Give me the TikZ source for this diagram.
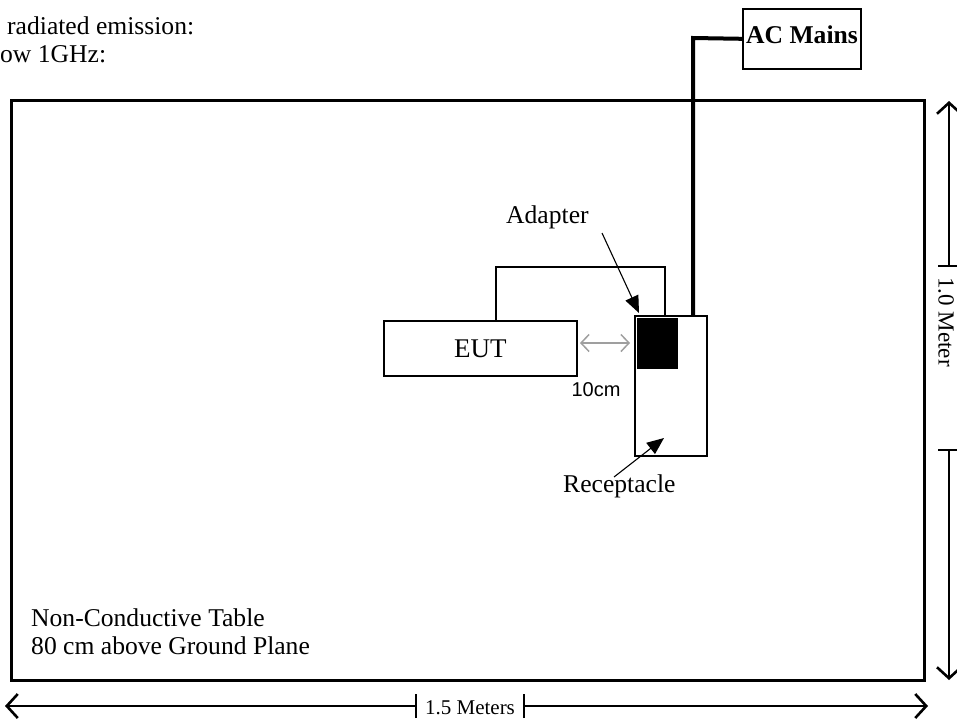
\documentclass[tikz,border=0pt]{standalone}
\usepackage{fontspec}
\setmainfont{Liberation Serif}
\newfontfamily\arialfont{Liberation Sans}
\usetikzlibrary{arrows.meta}
\begin{document}
\begin{tikzpicture}[x=1pt,y=-1pt,
  txt/.style={inner sep=0pt, font=\fontsize{25.6}{28}\selectfont},
  dimtxt/.style={inner sep=0pt, font=\fontsize{21}{24}\selectfont},
  box/.style={draw, line width=1.6pt, inner sep=0pt, anchor=north west},
  dimline/.style={line width=1.1pt},
  dimtip/.style={-{Straight Barb[length=11pt,width=24pt,line width=2.6pt]}},
  callout/.style={line width=1.1pt, -{Triangle[length=17pt,width=14pt]}},
  cable/.style={line width=1.6pt},
  maincable/.style={line width=4pt, line join=miter},
]
\useasboundingbox (0,0) rectangle (957,721);

% header text
\node[txt, anchor=base west] (h1) at (7,34) {radiated emission:};
\node[txt, anchor=base west] (h2) at (0,62) {ow 1GHz:};

% table
\node[draw, line width=2.8pt, minimum width=913pt, minimum height=580pt,
      anchor=north west, inner sep=0pt] (table) at (10,99) {};
\node[txt, anchor=base west, align=left] (tabletext) at (31,654)
  {Non-Conductive Table\\80 cm above Ground Plane};

% AC mains
\node[box, minimum width=118pt, minimum height=60pt] (ac) at (742,8) {};
\node[txt, font=\fontsize{25.6}{28}\selectfont\bfseries, anchor=base west] (actext) at (746,43) {AC Mains};

% receptacle and adapter
\node[box, minimum width=72pt, minimum height=140pt] (rec) at (634,315) {};
\node[fill=black, minimum width=41pt, minimum height=51pt, inner sep=0pt,
      anchor=north west] (adp) at (637,318) {};

% EUT
\node[box, minimum width=193pt, minimum height=55pt] (eut) at (383,320) {};
\node[txt, font=\fontsize{27}{30}\selectfont] (euttext) at (eut.center) {EUT};

% EUT cable
\coordinate (c1) at (496,267);
\coordinate (c2) at (665,267);
\draw[cable] (eut.north -| c1) -- (c1) -- (c2) -- (rec.north -| c2);

% AC cable
\coordinate (c3) at (693,38);
\draw[maincable] (ac.west) -- (c3) -- (rec.north -| c3);

% 10 cm spacing
\coordinate (g1) at (580,343);
\coordinate (g2) at (630,343);
\draw[gray!75, line width=1.5pt,
      {Straight Barb[length=8pt,width=17pt]}-{Straight Barb[length=8pt,width=17pt]}] (g1) -- (g2);
\node[inner sep=0pt, font=\arialfont\fontsize{20}{24}\selectfont] (tencm) at (596,390) {10cm};

% labels
\node[txt, anchor=base west] (adlabel) at (506,223) {Adapter};
\coordinate (a1) at (602,233);
\coordinate (a2) at (639,313);
\draw[callout] (a1) -- (a2);

\node[txt, anchor=base west] (reclabel) at (563,492) {Receptacle};
\coordinate (r1) at (614,477);
\coordinate (r2) at (664,438);
\draw[callout] (r1) -- (r2);

% vertical dimension
\coordinate (vtop) at (949,101);
\coordinate (vbot) at (949,680);
\coordinate (vt1) at (949,266);
\coordinate (vt2) at (949,450);
\node[inner sep=0pt, font=\fontsize{23}{26}\selectfont, rotate=-90] (vlabel) at (946,322) {1.0 Meter};
\draw[dimline, dimtip] (vt1) -- (vtop);
\draw[dimline, dimtip] (vt2) -- (vbot);
\draw[dimline] ([xshift=-11pt]vt1) -- ([xshift=11pt]vt1);
\draw[dimline] ([xshift=-11pt]vt2) -- ([xshift=11pt]vt2);

% horizontal dimension
\coordinate (hl) at (5,706);
\coordinate (hr) at (928,706);
\coordinate (ht1) at (416,706);
\coordinate (ht2) at (524,706);
\node[dimtxt] (hlabel) at (470,708) {1.5 Meters};
\draw[dimline, dimtip] (ht1) -- (hl);
\draw[dimline, dimtip] (ht2) -- (hr);
\draw[dimline] ([yshift=-12pt]ht1) -- ([yshift=12pt]ht1);
\draw[dimline] ([yshift=-12pt]ht2) -- ([yshift=12pt]ht2);
\end{tikzpicture}
\end{document}
